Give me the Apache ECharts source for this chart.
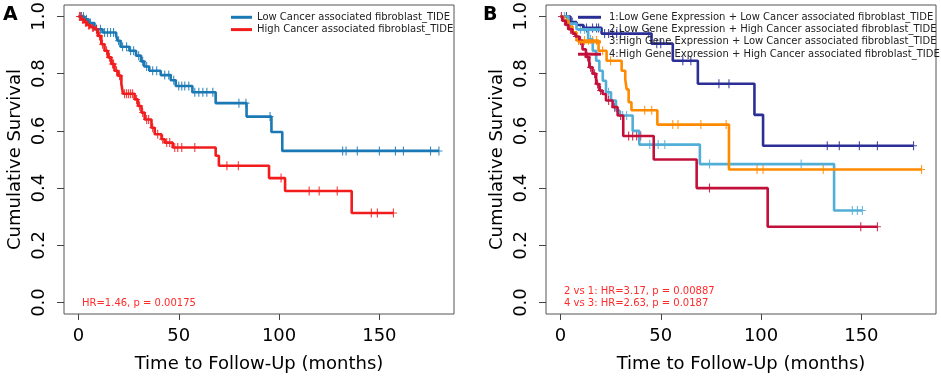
<!DOCTYPE html>
<html>
<head>
<meta charset="utf-8">
<script src="https://cdn.jsdelivr.net/npm/echarts@6/dist/echarts.min.js"></script>
<style>
html,body{margin:0;padding:0;background:#fff;}
#c{width:941px;height:378px;}
</style>
</head>
<body>
<div id="c"></div>
<script>
// ---------- Panel A ----------
const lowName = 'Low Cancer associated fibroblast_TIDE';
const highName = 'High Cancer associated fibroblast_TIDE';
const lowTimes = [0, 3, 5, 8, 12, 18.8, 19.5, 21, 25.4, 28.7, 31.2, 32.8, 35.3, 41, 46, 48.5, 56.8, 68.4, 83.8, 96.2, 101.6, 179.7];
const lowSurv  = [1.0, 0.99, 0.977, 0.955, 0.944, 0.933, 0.915, 0.894, 0.88, 0.863, 0.843, 0.825, 0.81, 0.795, 0.777, 0.757, 0.735, 0.697, 0.650, 0.596, 0.530, 0.530];
const lowCens  = [1.5, 2.5, 4, 6, 9, 11, 13, 14.5, 16, 17.5, 20, 22, 24, 26, 27.5, 30, 32, 34, 37, 39, 43, 45, 47.5, 50, 51.5, 53, 55, 58, 60, 62, 64, 67, 80, 83.5, 95.5, 131.7, 133.4, 139, 150, 158, 162, 175.5, 179.7];

const highTimes = [0, 1.5, 3, 4.5, 6, 8, 9.7, 11.4, 13, 14.7, 16.4, 18, 19.7, 21.4, 22.2, 28, 29.7, 31.4, 33, 36.4, 38, 41.4, 43, 47, 68.4, 70, 95, 103, 136.2, 157];
const highSurv  = [1.0, 0.99, 0.98, 0.97, 0.962, 0.955, 0.932, 0.903, 0.88, 0.857, 0.834, 0.81, 0.793, 0.764, 0.73, 0.71, 0.687, 0.664, 0.64, 0.611, 0.588, 0.571, 0.559, 0.542, 0.513, 0.478, 0.435, 0.39, 0.313, 0.313];
const highCens  = [0.5, 1, 2, 2.5, 3.5, 4, 5, 5.5, 7, 7.5, 9, 10.5, 12, 14, 15.5, 17, 17.5, 19, 20.5, 23, 24, 25, 26, 27, 29, 30.5, 32, 34, 35, 37, 39.5, 42, 44, 45.5, 48, 49.5, 51.5, 58, 74, 79.7, 101, 115, 120, 129, 146, 149, 157];

// ---------- Panel B ----------
const bNames = [
  '1:Low Gene Expression + Low Cancer associated fibroblast_TIDE',
  '2:Low Gene Expression + High Cancer associated fibroblast_TIDE',
  '3:High Gene Expression + Low Cancer associated fibroblast_TIDE',
  '4:High Gene Expression + High Cancer associated fibroblast_TIDE'
];
const g1Times = [0, 5, 8, 11.4, 20.5, 45.4, 56, 68.5, 96.7, 101, 176];
const g1Surv  = [1.0, 0.98, 0.97, 0.96, 0.94, 0.905, 0.845, 0.765, 0.656, 0.548, 0.548];
const g1Cens  = [3, 6, 13, 16, 18, 19, 22, 24, 26, 28, 30, 44, 48, 50, 61, 65, 79, 84, 133, 139, 149, 158, 176];

const g2Times = [0, 4, 8, 13.8, 16.1, 17.8, 19.4, 21.1, 22.7, 25.2, 27.7, 29.5, 36, 39.3, 69.5, 136.4, 150.5];
const g2Surv  = [1.0, 0.975, 0.955, 0.92, 0.88, 0.845, 0.81, 0.775, 0.735, 0.706, 0.671, 0.654, 0.6, 0.552, 0.484, 0.322, 0.322];
const g2Cens  = [2, 6, 10, 12, 15, 24, 31, 33, 44.5, 48.7, 52, 74.3, 120, 145.5, 148, 150.5];

const g3Times = [0, 1.6, 4, 6, 8, 19, 23, 30.5, 32.3, 33, 34, 35.4, 48.3, 84, 180];
const g3Surv  = [1.0, 0.985, 0.965, 0.945, 0.916, 0.88, 0.845, 0.81, 0.78, 0.745, 0.70, 0.672, 0.622, 0.465, 0.465];
const g3Cens  = [3, 9, 10, 12, 14, 16, 18, 21, 25, 42, 45.5, 56, 58.6, 70, 82.6, 98, 101, 131, 180];

const g4Times = [0, 1, 2.7, 4, 6, 7.5, 9.4, 11, 12.7, 14.4, 16, 17.8, 19.4, 21, 22.7, 26, 28.5, 31.3, 46.5, 67.9, 103.3, 158];
const g4Surv  = [1.0, 0.985, 0.97, 0.955, 0.94, 0.93, 0.915, 0.885, 0.858, 0.822, 0.8, 0.764, 0.741, 0.729, 0.706, 0.683, 0.654, 0.582, 0.50, 0.40, 0.265, 0.265];
const g4Cens  = [0.5, 2, 3.5, 5, 8, 10, 13.5, 15, 17, 18.5, 20, 24, 27, 30, 34, 36, 38, 40, 74.3, 149.7, 158];

const xTicks = [0, 50, 100, 150];
const yTicks = [0, 0.2, 0.4, 0.6, 0.8, 1.0];

const colA = ['#1a78b4', '#f21c1c'];
const colB = ['#2b2f95', '#52aed7', '#ff8a00', '#c3103a'];

const FONT = 'DejaVu Sans';
const PLUS = 'path://M-0.16,-1H0.16V-0.12H1V0.12H0.16V1H-0.16V0.12H-1V-0.12H-0.16Z';

function pairs(t, s) { return t.map((v, i) => [v, s[i]]); }
function censor(t, s, c) {
  return c.map(ct => {
    let v = s[0];
    for (let i = 0; i < t.length; i++) { if (t[i] <= ct) v = s[i]; }
    return [ct, v];
  });
}

function km(name, t, s, c, color, idx) {
  return [
    { name: name, type: 'line', step: 'end', xAxisIndex: idx, yAxisIndex: idx,
      data: pairs(t, s), showSymbol: false, symbol: 'none', silent: true,
      lineStyle: { color: color, width: 2.6 }, itemStyle: { color: color } },
    { name: name + ' censored', type: 'scatter', xAxisIndex: idx, yAxisIndex: idx,
      data: censor(t, s, c), symbol: PLUS, symbolSize: [7, 9], silent: true,
      itemStyle: { color: color, opacity: 0.85 } }
  ];
}

function xAx(idx) {
  return { gridIndex: idx, type: 'value', min: -7.2, max: 187.2,
    axisLine: { show: false, onZero: false }, splitLine: { show: false },
    axisTick: { show: true, customValues: xTicks, length: 6, lineStyle: { color: '#444', width: 1 } },
    axisLabel: { customValues: xTicks, fontSize: 18, margin: 13, color: '#000', fontFamily: FONT },
    name: 'Time to Follow-Up (months)', nameLocation: 'middle', nameGap: 41,
    nameTextStyle: { fontSize: 18, color: '#000', fontFamily: FONT } };
}
function yAx(idx) {
  return { gridIndex: idx, type: 'value', min: -0.04, max: 1.04,
    axisLine: { show: false, onZero: false }, splitLine: { show: false },
    axisTick: { show: true, customValues: yTicks, length: 7, lineStyle: { color: '#444', width: 1 } },
    axisLabel: { customValues: yTicks, fontSize: 18, margin: 16, rotate: 90, color: '#000', fontFamily: FONT,
      formatter: v => v.toFixed(1) },
    name: 'Cumulative Survival', nameLocation: 'middle', nameGap: 40,
    nameTextStyle: { fontSize: 18, color: '#000', fontFamily: FONT } };
}

const chart = echarts.init(document.getElementById('c'), null, { renderer: 'canvas' });
const option = {
  animation: false,
  backgroundColor: '#fff',
  grid: [
    { left: 64, top: 5, width: 390, height: 309, show: true, borderColor: '#555', borderWidth: 1, backgroundColor: 'transparent', containLabel: false, outerBoundsMode: 'none' },
    { left: 546, top: 5, width: 390, height: 309, show: true, borderColor: '#555', borderWidth: 1, backgroundColor: 'transparent', containLabel: false, outerBoundsMode: 'none' }
  ],
  xAxis: [xAx(0), xAx(1)],
  yAxis: [yAx(0), yAx(1)],
  legend: [
    { data: [lowName, highName], orient: 'vertical', left: 231, top: 11.3, padding: 0,
      itemWidth: 21, itemHeight: 3, itemGap: 0.3, icon: 'rect', selectedMode: false,
      textStyle: { fontSize: 10, lineHeight: 12, color: '#222', fontFamily: FONT } },
    { data: bNames, orient: 'vertical', left: 578, top: 11.3, padding: 0,
      itemWidth: 23, itemHeight: 3, itemGap: 0.3, icon: 'rect', selectedMode: false,
      textStyle: { fontSize: 10, lineHeight: 12, color: '#222', fontFamily: FONT, padding: [0, 0, 0, 3] } }
  ],
  graphic: [
    { type: 'text', left: 3, top: 6, style: { text: 'A', font: 'bold 19px "DejaVu Sans"', fill: '#000' } },
    { type: 'text', left: 483, top: 6, style: { text: 'B', font: 'bold 19px "DejaVu Sans"', fill: '#000' } },
    { type: 'text', left: 82, top: 298, style: { text: 'HR=1.46, p = 0.00175', font: '10px "DejaVu Sans"', fill: '#ff2a2a' } },
    { type: 'text', left: 564, top: 286, style: { text: '2 vs 1: HR=3.17, p = 0.00887', font: '10px "DejaVu Sans"', fill: '#ff2a2a' } },
    { type: 'text', left: 564, top: 298, style: { text: '4 vs 3: HR=2.63, p = 0.0187', font: '10px "DejaVu Sans"', fill: '#ff2a2a' } }
  ],
  series: [].concat(
    km(lowName, lowTimes, lowSurv, lowCens, colA[0], 0),
    km(highName, highTimes, highSurv, highCens, colA[1], 0),
    km(bNames[0], g1Times, g1Surv, g1Cens, colB[0], 1),
    km(bNames[1], g2Times, g2Surv, g2Cens, colB[1], 1),
    km(bNames[2], g3Times, g3Surv, g3Cens, colB[2], 1),
    km(bNames[3], g4Times, g4Surv, g4Cens, colB[3], 1)
  )
};
chart.setOption(option);
</script>
</body>
</html>
